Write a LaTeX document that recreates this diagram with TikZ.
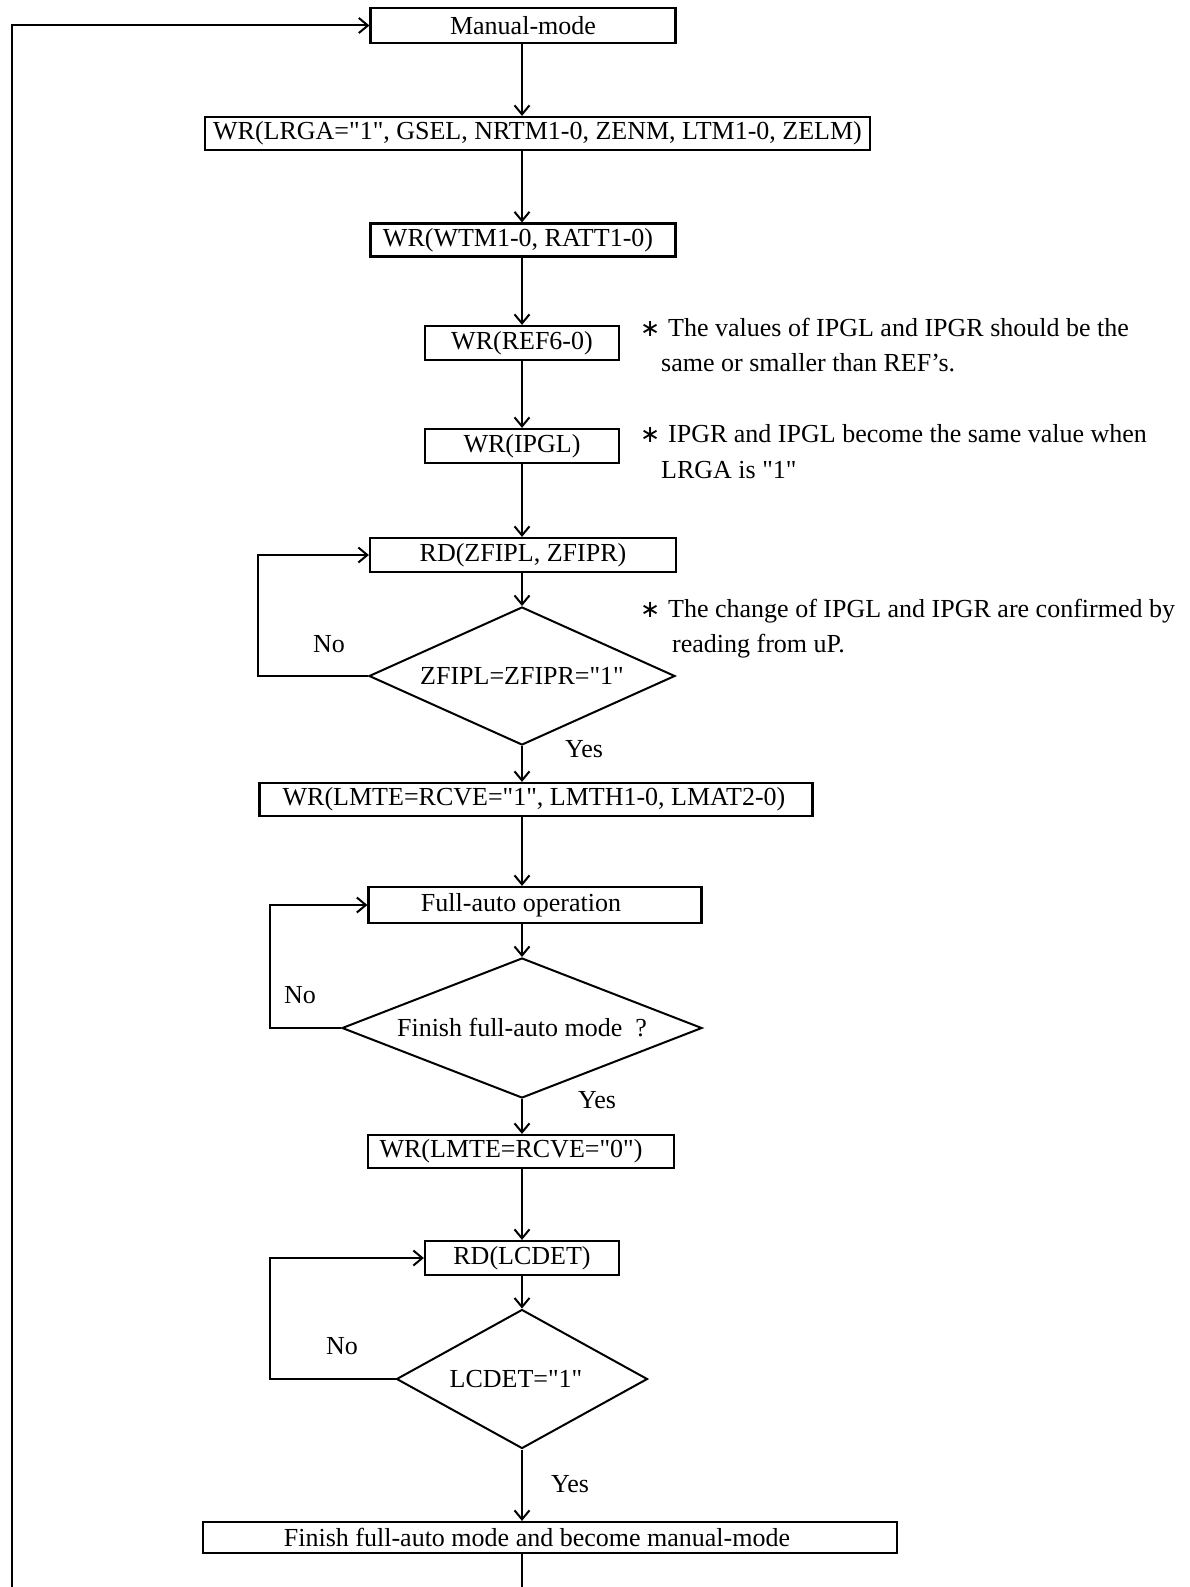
\documentclass[tikz,border=0pt]{standalone}
\usepackage{fontspec}
\setmainfont{Liberation Serif}[Ligatures=TeXOff]
\newfontfamily\symf{DejaVu Sans}
\usetikzlibrary{shapes.geometric,arrows.meta}
\begin{document}
\begin{tikzpicture}[x=1pt,y=-1pt,
  every node/.style={font=\fontsize{26}{31}\selectfont},
  box/.style={draw, line width=2.2pt, rectangle, inner sep=0pt, minimum height=34pt},
  dec/.style={draw, line width=2pt, diamond, inner sep=0pt},
  conn/.style={line width=2pt},
  arr/.style={conn, -{Straight Barb[length=9pt,width=15pt]}},
  lab/.style={inner sep=0pt},
  note/.style={inner sep=0pt, anchor=base west}]
\useasboundingbox (0,0) rectangle (1190,1587);
% boxes
\node[box, minimum width=305pt, minimum height=35pt] (manual) at (523,25.5) {Manual-mode};
\node[box, minimum width=665pt, minimum height=33pt] (lrga) at (537.5,133.5) {WR(LRGA="1", GSEL, NRTM1-0, ZENM, LTM1-0, ZELM)};
\node[box, minimum width=305pt, minimum height=33pt] (wtm) at (523,240) {\hspace*{-10pt}WR(WTM1-0, RATT1-0)};
\node[box, minimum width=194pt] (ref) at (522,343) {WR(REF6-0)};
\node[box, minimum width=194pt] (ipgl) at (522,446) {WR(IPGL)};
\node[box, minimum width=306pt] (rd1) at (523,555) {RD(ZFIPL, ZFIPR)};
\node[dec, aspect=2.22, minimum width=306pt, minimum height=138pt] (d1) at (522,676) {ZFIPL=ZFIPR="1"};
\node[box, minimum width=553pt, minimum height=33pt] (lmte1) at (536,799.5) {\hspace*{-4pt}WR(LMTE=RCVE="1", LMTH1-0, LMAT2-0)};
\node[box, minimum width=333pt, minimum height=36pt] (full) at (535,905) {\hspace*{-28pt}Full-auto operation};
\node[dec, aspect=2.57, minimum width=360pt, minimum height=140pt] (d2) at (522,1028) {Finish full-auto mode ~?};
\node[box, minimum width=306pt, minimum height=33pt] (lmte0) at (521,1151.5) {\hspace*{-20pt}WR(LMTE=RCVE="0")};
\node[box, minimum width=194pt] (rd2) at (522,1258) {RD(LCDET)};
\node[dec, aspect=1.8, minimum width=251pt, minimum height=139pt] (d3) at (522,1379) {\hspace*{-12pt}LCDET="1"};
\node[box, minimum width=694pt, minimum height=31pt] (fin) at (550,1537.5) {\hspace*{-26pt}Finish full-auto mode and become manual-mode};
% helper coordinates
\coordinate (ax) at (522,0);
\coordinate (bot) at (522,1587);
\coordinate (obot) at (12,1587);
% connectors
\draw[arr] (manual.south -| ax) -- (lrga.north -| ax);
\draw[arr] (lrga.south -| ax) -- (wtm.north -| ax);
\draw[arr] (wtm.south -| ax) -- (ref.north -| ax);
\draw[arr] (ref.south -| ax) -- (ipgl.north -| ax);
\draw[arr] (ipgl.south -| ax) -- (rd1.north -| ax);
\draw[arr] (rd1.south -| ax) -- (d1.north);
\draw[arr] (d1.west) -- ++(-110,0) |- (rd1.west);
\draw[arr] (d1.south) -- (lmte1.north -| ax);
\draw[arr] (lmte1.south -| ax) -- (full.north -| ax);
\draw[arr] (full.south -| ax) -- (d2.north);
\draw[arr] (d2.west) -- ++(-71,0) |- (full.west);
\draw[arr] (d2.south) -- (lmte0.north -| ax);
\draw[arr] (lmte0.south -| ax) -- (rd2.north -| ax);
\draw[arr] (rd2.south -| ax) -- (d3.north);
\draw[arr] (d3.west) -- ++(-125.5,0) |- (rd2.west);
\draw[arr] (d3.south) -- (fin.north -| ax);
\draw[conn] (fin.south -| ax) -- (bot);
\draw[arr] (obot) |- (manual.west);
% labels
\node[lab] (no1) at (329,644) {No};
\node[lab] (yes1) at (584,749) {Yes};
\node[lab] (no2) at (300,995) {No};
\node[lab] (yes2) at (597,1100) {Yes};
\node[lab] (no3) at (342,1346) {No};
\node[lab] (yes3) at (570,1484) {Yes};
% notes
\node[note] (n1a) at (640,336) {\makebox[28pt][l]{\symf\fontsize{24}{24}\selectfont ∗}The values of IPGL and IPGR should be the};
\node[note] (n1b) at (661,371) {same or smaller than REF’s.};
\node[note] (n2a) at (640,442) {\makebox[28pt][l]{\symf\fontsize{24}{24}\selectfont ∗}IPGR and IPGL become the same value when};
\node[note] (n2b) at (661,478) {LRGA is "1"};
\node[note] (n3a) at (640,617) {\makebox[28pt][l]{\symf\fontsize{24}{24}\selectfont ∗}The change of IPGL and IPGR are confirmed by};
\node[note] (n3b) at (672,652) {reading from uP.};
\end{tikzpicture}
\end{document}
